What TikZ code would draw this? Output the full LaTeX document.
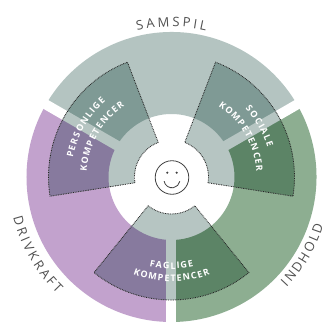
\documentclass[tikz,border=0pt]{standalone}
\usepackage{fontspec}
\newfontfamily\osans{Open Sans}
\newcommand\labfont{\osans\fontsize{13}{13}\selectfont}
\newcommand\inrfont{\osans\bfseries\fontsize{9}{9}\selectfont}
\definecolor{sam}{HTML}{B4C4C1}
\definecolor{pur}{HTML}{C2A2CD}
\definecolor{grn}{HTML}{8DAE91}
\definecolor{ovw}{HTML}{B6C5C2}
\definecolor{ovs}{HTML}{7F9A95}
\definecolor{ovp}{HTML}{877A9E}
\definecolor{ovg}{HTML}{5C8466}
\definecolor{labgrey}{HTML}{505050}
\newcounter{ltr}
% measure letters (outside the picture): #1 key, #2 font, #3 tracking, #4 letters
\newcommand\prepword[4]{%
  \gdef\arcTmp{}\gdef\arcTot{0}%
  \foreach \ch in {#4}{%
    \setbox0=\hbox{#2\ch}%
    \pgfmathsetmacro\arcW{\the\wd0}%
    \ifx\arcTmp\empty\xdef\arcTmp{\ch/\arcW}\else\xdef\arcTmp{\arcTmp,\ch/\arcW}\fi
    \pgfmathparse{\arcTot+\arcW+#3}\xdef\arcTot{\pgfmathresult}%
  }%
  \pgfmathparse{\arcTot-#3}%
  \expandafter\xdef\csname at@#1\endcsname{\pgfmathresult}%
  \expandafter\global\expandafter\let\csname al@#1\endcsname\arcTmp
}
% place letters: #1 key, #2 baseline radius, #3 mid angle, #4 dir (1 tops out, -1 tops in),
% #5 tracking, #6 font, #7 node options
\newcommand\arcword[7]{%
  \expandafter\let\expandafter\arcTw\csname at@#1\endcsname
  \expandafter\let\expandafter\arcList\csname al@#1\endcsname
  \gdef\arcPos{0}%
  \foreach \ch/\w in \arcList {%
    \pgfmathsetmacro\arcS{\arcPos+0.5*\w}%
    \pgfmathsetmacro\arcA{#3-(#4)*(\arcS-0.5*\arcTw)/(#2)*57.29578}%
    \pgfmathsetmacro\arcRot{\arcA-(#4)*90}%
    \stepcounter{ltr}%
    \node[#7,anchor=base,inner sep=0pt,rotate=\arcRot] (ltr\arabic{ltr}) at (\arcA:#2) {#6\ch};%
    \pgfmathparse{\arcPos+\w+#5}\xdef\arcPos{\pgfmathresult}%
  }%
}
\def\ringpath#1#2{(#1:63) arc[start angle=#1, end angle=#2, radius=63] -- (#2:145) arc[start angle=#2, end angle=#1, radius=145] -- cycle}
\def\sectorpath#1{(#1-39:37) arc[start angle=#1-39, end angle=#1+39, radius=37] -- (#1+39:123) arc[start angle=#1+39, end angle=#1-39, radius=123] -- cycle}
\tikzset{
  dotline/.style={draw=black!85, line width=0.85pt, dash pattern=on 0.8pt off 0.9pt},
  outerlab/.style={text=labgrey},
  innerlab/.style={text=white},
  smileline/.style={draw=black!75, line width=0.8pt},
}
\begin{document}
\prepword{pers}{\inrfont}{1.2}{P,E,R,S,O,N,L,I,G,E}
\prepword{komp}{\inrfont}{1.2}{K,O,M,P,E,T,E,N,C,E,R}
\prepword{soc}{\inrfont}{1.2}{S,O,C,I,A,L,E}
\prepword{fag}{\inrfont}{1.2}{F,A,G,L,I,G,E}
\prepword{sam}{\labfont}{2.8}{S,A,M,S,P,I,L}
\prepword{drv}{\labfont}{2.8}{D,R,I,V,K,R,A,F,T}
\prepword{ind}{\labfont}{2.3}{I,N,D,H,O,L,D}
\begin{tikzpicture}[x=1pt,y=1pt]
\useasboundingbox[fill=white] (-171.5,-145) rectangle (153.5,177);
% outer ring
\fill[sam] \ringpath{30}{150};
\fill[pur] \ringpath{150}{270};
\fill[grn] \ringpath{-90}{30};
\foreach \t in {30,150,270} \fill[white, rotate=\t] (0,-5) rectangle (150,5);
% overlay sectors
\foreach \m in {150,30,270}{
  \begin{scope}
    \clip \sectorpath{\m};
    \fill[ovw] \sectorpath{\m};
    \fill[ovs] \ringpath{30}{150};
    \fill[ovp] \ringpath{150}{270};
    \fill[ovg] \ringpath{-90}{30};
    \foreach \t in {30,150,270} \fill[ovw, rotate=\t] (0,-5) rectangle (150,5);
  \end{scope}
  \draw[dotline] \sectorpath{\m};
}
% inner labels
\arcword{pers}{100.5}{150}{1}{1.2}{\inrfont}{innerlab}
\arcword{komp}{85}{150}{1}{1.2}{\inrfont}{innerlab}
\arcword{soc}{100.5}{30}{1}{1.2}{\inrfont}{innerlab}
\arcword{komp}{85}{30}{1}{1.2}{\inrfont}{innerlab}
\arcword{fag}{92}{270}{-1}{1.2}{\inrfont}{innerlab}
\arcword{komp}{104.5}{270}{-1}{1.2}{\inrfont}{innerlab}
% outer labels
\arcword{sam}{150.4}{90}{1}{2.8}{\labfont}{outerlab}
\arcword{drv}{163.5}{210}{-1}{2.8}{\labfont}{outerlab}
\arcword{ind}{159.5}{329.3}{-1}{2.3}{\labfont}{outerlab}
% smiley
\begin{scope}[shift={(0.5,-0.5)}]
  \draw[smileline] (0,0) circle (16.8);
  \fill[black!75] (-4.7,4.8) circle (1.2);
  \fill[black!75] (4.7,4.8) circle (1.2);
  \draw[smileline] (190:8) ++(0,-2.3) arc[start angle=190, end angle=350, radius=8];
\end{scope}
\end{tikzpicture}
\end{document}
